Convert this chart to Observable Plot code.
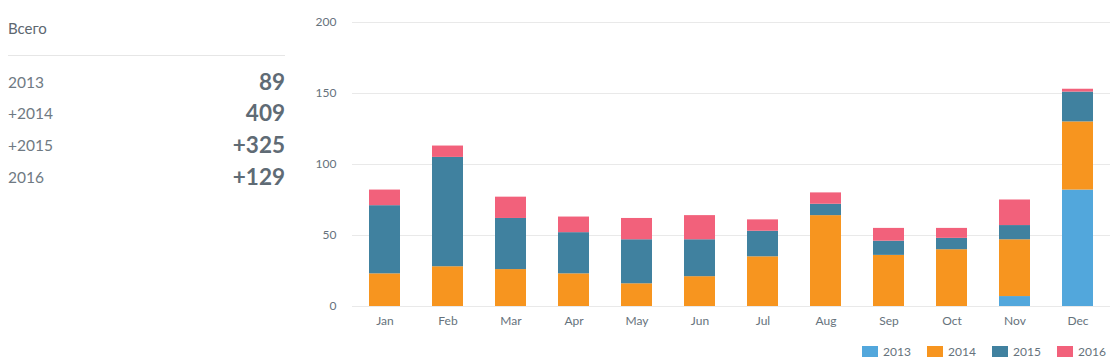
<!DOCTYPE html>
<html>
<head>
<meta charset="utf-8">
<script src="https://cdn.jsdelivr.net/npm/d3@7"></script>
<script src="https://cdn.jsdelivr.net/npm/@observablehq/plot@0.6"></script>
<style>
  body { margin: 0; background: #fff; font-family: Lato, "Open Sans", sans-serif; }
  #wrap { position: relative; width: 1119px; height: 360px; }
  #side { position: absolute; left: 8px; top: 0; width: 277px; color: #66727c; }
  #side .title { position: absolute; top: 18px; left: 0; font-size: 15px; line-height: 20px; color: #5d6770; }
  #side .rule { position: absolute; top: 55px; left: 0; width: 277px; height: 1px; background: #e6e6e6; }
  #side .row { position: absolute; left: 0; width: 277px; height: 30px; }
  #side .row .k { position: absolute; left: 0; top: 0; line-height: 30px; font-size: 15.5px; color: #6f7a83; }
  #side .row .v { position: absolute; right: 0; top: 0; line-height: 30px; font-size: 22.5px; font-weight: bold; color: #5f6b75; }
  #chart { position: absolute; left: 0; top: 0; }
  #legend { position: absolute; top: 343px; left: 862px; display: flex; font-size: 12px; line-height: 17px; color: #66727c; }
  #legend .it { display: flex; align-items: center; width: 65px; }
  #legend .sw { width: 16px; height: 11px; margin-right: 5px; }
</style>
</head>
<body>
<div id="wrap">
  <div id="side"></div>
  <div id="chart"></div>
  <div id="legend"></div>
</div>
<script>
const months = ["Jan","Feb","Mar","Apr","May","Jun","Jul","Aug","Sep","Oct","Nov","Dec"];
const years = ["2013","2014","2015","2016"];
const colors = ["#52a7dc","#f7951f","#40819f","#f2617b"];
const v2013 = [0,0,0,0,0,0,0,0,0,0,7,82];
const v2014 = [23,28,26,23,16,21,35,64,36,40,40,48];
const v2015 = [48,77,36,29,31,26,18,8,10,8,10,21];
const v2016 = [11,8,15,11,15,17,8,8,9,7,18,2];
const summaryTitle = "Всего";
const summaryLabels = ["2013","+2014","+2015","2016"];
const summaryValues = ["89","409","+325","+129"];
const yTicks = [0,50,100,150,200];

const series = [v2013, v2014, v2015, v2016];
const data = [];
months.forEach((m, i) => {
  years.forEach((y, j) => {
    data.push({month: m, year: y, value: series[j][i]});
  });
});

// side panel
const side = document.getElementById("side");
side.innerHTML = `<div class="title">${summaryTitle}</div><div class="rule"></div>` +
  summaryLabels.map((l, i) => `<div class="row" style="top:${66.5 + i * 31.8}px"><span class="k">${l}</span><span class="v">${summaryValues[i]}</span></div>`).join("");

const chart = Plot.plot({
  width: 1119,
  height: 335,
  marginLeft: 352,
  marginRight: 9,
  marginTop: 22,
  marginBottom: 29,
  style: { fontFamily: "Lato, 'Open Sans', sans-serif", fontSize: "12px", color: "#66727c", background: "transparent" },
  x: { domain: months, paddingInner: 0.51, paddingOuter: 0.255, label: null },
  y: { domain: [0, 200], ticks: yTicks, label: null },
  color: { domain: years, range: colors },
  marks: [
    Plot.ruleY(yTicks, { stroke: "#e9e9e9", strokeWidth: 1 }),
    Plot.barY(data, { x: "month", y: "value", fill: "year", order: years }),
    Plot.axisX({ tickSize: 0, tickPadding: 10 }),
    Plot.axisY({ ticks: yTicks, tickSize: 0, tickPadding: 16 })
  ]
});
document.getElementById("chart").appendChild(chart);

const legend = document.getElementById("legend");
legend.innerHTML = years.map((y, i) => `<div class="it"><span class="sw" style="background:${colors[i]}"></span>${y}</div>`).join("");
</script>
</body>
</html>
